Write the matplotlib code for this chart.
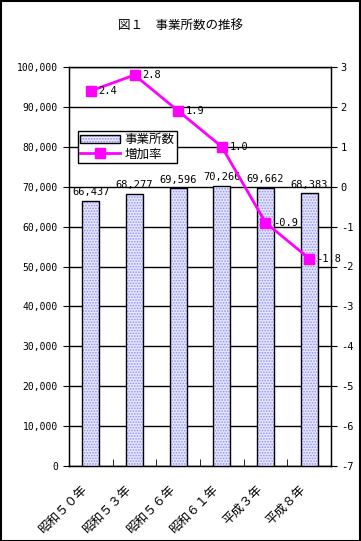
import matplotlib
matplotlib.use("Agg")
import matplotlib.pyplot as plt
import matplotlib.transforms as mtransforms
import numpy as np
from matplotlib.patches import Patch, Rectangle
from matplotlib.lines import Line2D

plt.rcParams['font.family'] = ['Noto Sans CJK JP', 'DejaVu Sans']
plt.rcParams['hatch.linewidth'] = 0.8
MONO = ['DejaVu Sans Mono']

categories = ["昭和５０年", "昭和５３年", "昭和５６年", "昭和６１年", "平成３年", "平成８年"]
establishments = [66437, 68277, 69596, 70266, 69662, 68383]
growth = [2.4, 2.8, 1.9, 1.0, -0.9, -1.8]
left_ticks = list(range(0, 100001, 10000))
right_ticks = list(range(-7, 4))

FILL = '#e8e8ff'
HATCHC = '#8c8cff'

fig = plt.figure(figsize=(3.61, 5.41), dpi=100)
ax = fig.add_axes([69/361, 75/541, 262/361, 399/541])
x = np.arange(len(categories))
w = 0.39

ax.bar(x, establishments, width=w, facecolor=FILL, edgecolor=HATCHC,
       hatch='......', linewidth=0, zorder=3)
ax.bar(x, establishments, width=w, facecolor='none', edgecolor='black',
       linewidth=1, zorder=4)
for xi, v in zip(x, establishments):
    ax.text(xi, v + 900, f"{v:,}", ha='center', va='bottom', fontsize=7.5,
            family=MONO, zorder=6)

ax.set_xlim(-0.5, len(categories) - 0.5)
ax.set_ylim(0, 100000)
ax.set_yticks(left_ticks)
ax.set_yticklabels([f"{t:,}" for t in left_ticks], fontsize=7, family=MONO)
ax.yaxis.grid(True, color='black', linewidth=1, zorder=1)
ax.set_axisbelow(True)
ax.set_xticks(x)
ax.set_xticklabels(categories, rotation=45, ha='right', va='top',
                   rotation_mode='anchor', fontsize=9)
ax.tick_params(axis='x', length=0, pad=12)
off = mtransforms.ScaledTranslation(-10/100, 0, fig.dpi_scale_trans)
for lab in ax.get_xticklabels():
    lab.set_transform(lab.get_transform() + off)
ax.set_xticks(np.arange(-0.5, len(categories)), minor=True)
ax.tick_params(axis='x', which='minor', direction='in', length=5)
ax.tick_params(axis='y', direction='out', length=4, pad=4)
for s in ax.spines.values():
    s.set_linewidth(1)
    s.set_color('black')

ax2 = ax.twinx()
ax2.set_ylim(-7, 3)
ax2.set_yticks(right_ticks)
ax2.set_yticklabels([str(t) for t in right_ticks], fontsize=7.5, family=MONO)
ax2.tick_params(axis='y', direction='out', length=4, pad=3)
ax2.plot(x, growth, color='#ff00ff', linewidth=2, marker='s', markersize=7, zorder=5)
for xi, g in zip(x, growth):
    ax2.text(xi + 0.17, g, f"{g:.1f}", ha='left', va='center', fontsize=7.5,
             family=MONO, zorder=6)

p_fill = Patch(facecolor=FILL, edgecolor=HATCHC, hatch='......', linewidth=0)
p_edge = Patch(facecolor='none', edgecolor='black', linewidth=1)
l_handle = Line2D([0], [0], color='#ff00ff', linewidth=2, marker='s', markersize=7)
leg = ax2.legend([(p_fill, p_edge), l_handle], ["事業所数", "増加率"], loc='upper left',
                 bbox_to_anchor=(0.034, 0.84), fontsize=9, frameon=True,
                 fancybox=False, framealpha=1, edgecolor='black',
                 borderpad=0.2, labelspacing=0.1, handlelength=3.2, handleheight=0.6,
                 handletextpad=0.3, borderaxespad=0)
leg.get_frame().set_linewidth(1)

fig.text(180/361, 1 - 25/541, "図１　事業所数の推移", ha='center', va='center', fontsize=9)
fig.patches.append(Rectangle((0.5/361, 0.5/541), 359.5/361, 539.5/541, transform=fig.transFigure,
                             fill=False, edgecolor='black', linewidth=1.5))
fig.savefig("out.png", dpi=100)
